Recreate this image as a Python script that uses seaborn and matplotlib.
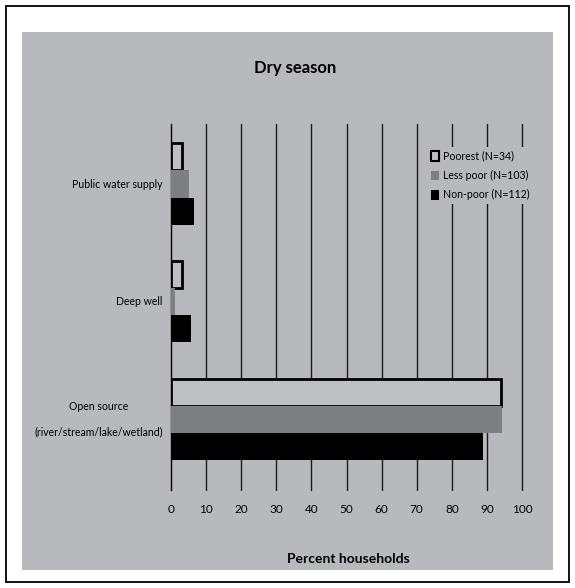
import matplotlib
matplotlib.use("Agg")
import matplotlib.pyplot as plt
from matplotlib.patches import Rectangle, Patch
import seaborn as sns
import pandas as pd

categories = ["Public water supply", "Deep well", "Open source\n(river/stream/lake/wetland)"]
groups = ["Poorest (N=34)", "Less poor (N=103)", "Non-poor (N=112)"]
poorest = [3.0, 3.0, 94.0]
less_poor = [5.1, 1.1, 94.2]
non_poor = [6.6, 5.8, 88.8]
x_ticks = [0, 10, 20, 30, 40, 50, 60, 70, 80, 90, 100]

BG = "#b8b9bc"
FILLS = ["#bfc0c3", "#7e7f83", "#000000"]

sns.set_theme(style="white")
plt.rcParams["font.family"] = ["Lato", "DejaVu Sans"]
plt.rcParams["text.color"] = "black"
plt.rcParams["xtick.color"] = "black"
plt.rcParams["ytick.color"] = "black"

rows = []
for g, vals in zip(groups, [poorest, less_poor, non_poor]):
    for c, v in zip(categories, vals):
        rows.append({"Source": c, "Group": g, "Percent": v})
df = pd.DataFrame(rows)

W, H = 575, 588
fig = plt.figure(figsize=(W / 100, H / 100), dpi=100)
fig.patch.set_facecolor("white")

# outer border and grey panel
fig.patches.append(Rectangle((6 / W, 6 / H), (W - 12) / W, (H - 12) / H, transform=fig.transFigure,
                             facecolor="white", edgecolor="black", linewidth=1.3, zorder=-2))
fig.patches.append(Rectangle((22 / W, 1 - 570 / H), 531 / W, 538 / H, transform=fig.transFigure,
                             facecolor=BG, edgecolor="none", zorder=-1))

ax = fig.add_axes([171 / W, 1 - 490 / H, 351 / W, 366 / H])
ax.set_zorder(2)
ax.set_facecolor("none")

sns.barplot(data=df, y="Source", x="Percent", hue="Group", hue_order=groups,
            order=categories, orient="h", palette=FILLS, width=0.69, ax=ax,
            saturation=1, legend=False, zorder=3)

# style bars: poorest with black edge
n = len(categories)
for i, patch in enumerate(ax.patches):
    gi = i // n
    if gi == 0:
        patch.set_edgecolor("black")
        patch.set_linewidth(2.0)
    else:
        patch.set_edgecolor("none")

ax.set_xlim(0, 100)
ax.set_ylim(2.6, -0.51)
ax.set_xticks(x_ticks)
ax.set_xticklabels([str(t) for t in x_ticks], fontsize=8.5)
ax.tick_params(axis="x", length=0, pad=10)
ax.tick_params(axis="y", length=0, pad=6, labelsize=7.6)
for lbl in ax.get_yticklabels():
    lbl.set_linespacing(2.55)
    lbl.set_multialignment("center")
    lbl.set_verticalalignment("center")

for t in x_ticks[1:]:
    ax.axvline(t, color="#1a1a1a", linewidth=1.0, zorder=1, clip_on=False)
for s in ["top", "right", "bottom"]:
    ax.spines[s].set_visible(False)
ax.spines["left"].set_color("black")
ax.spines["left"].set_linewidth(1.0)
ax.set_xlabel("")
ax.set_ylabel("")
ax.grid(False)

handles = [Patch(facecolor=FILLS[0], edgecolor="black", linewidth=1.5),
           Patch(facecolor=FILLS[1], edgecolor="none"),
           Patch(facecolor=FILLS[2], edgecolor="none")]
leg = ax.legend(handles, groups, loc="upper left", bbox_to_anchor=(423 / W, 1 - 142 / H),
                bbox_transform=fig.transFigure, frameon=True, facecolor=BG, edgecolor="none",
                framealpha=1, fontsize=7.6, handlelength=0.75, handleheight=1.0,
                handletextpad=0.3, labelspacing=0.8, borderpad=0.3, fancybox=False)
leg.set_zorder(5)

fig.text(295 / W, 1 - 68 / H, "Dry season", ha="center", va="center", fontsize=12, fontweight="bold")
fig.text(348 / W, 1 - 559 / H, "Percent households", ha="center", va="center", fontsize=10,
         fontweight="bold")

fig.savefig("out.png", dpi=100)
